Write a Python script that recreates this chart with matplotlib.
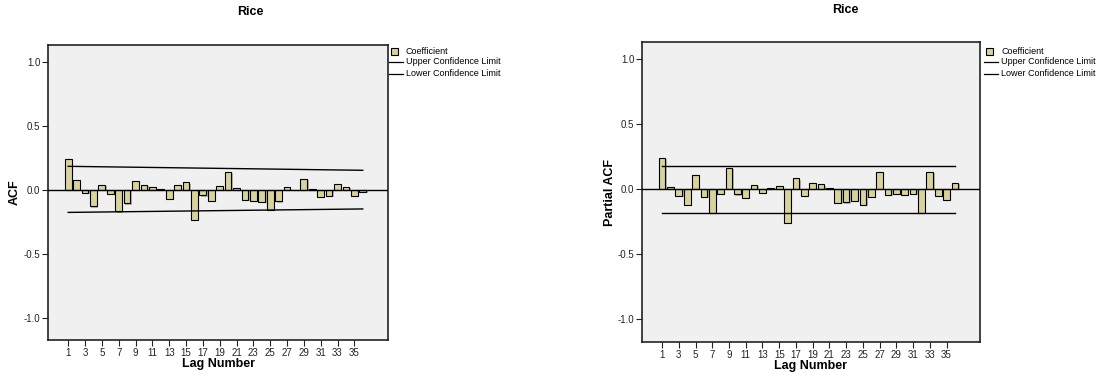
import numpy as np
import matplotlib
matplotlib.use("Agg")
import matplotlib.pyplot as plt
import matplotlib.patheffects as pe

plt.rcParams['font.family'] = ['Liberation Sans', 'DejaVu Sans']

lags = list(range(1, 37))
acf = [0.242, 0.073, -0.026, -0.130, 0.039, -0.031, -0.169, -0.107, 0.070, 0.036,
       0.018, 0.003, -0.070, 0.039, 0.057, -0.234, -0.044, -0.086, 0.031, 0.141,
       0.013, -0.078, -0.086, -0.094, -0.159, -0.091, 0.018, -0.003, 0.086, 0.005,
       -0.055, -0.047, 0.047, 0.023, -0.049, -0.016]
pacf = [0.238, 0.015, -0.054, -0.123, 0.107, -0.061, -0.181, -0.038, 0.164, -0.041,
        -0.066, 0.031, -0.031, 0.010, 0.023, -0.260, 0.084, -0.054, 0.049, 0.038,
        0.005, -0.107, -0.102, -0.092, -0.120, -0.061, 0.133, -0.043, -0.038, -0.046,
        -0.038, -0.184, 0.135, -0.054, -0.082, 0.046]

# confidence limits read at first and last lag
limit_lags = [1, 36]
acf_upper = [0.182, 0.151]
acf_lower = [-0.178, -0.151]
pacf_upper = [0.181, 0.181]
pacf_lower = [-0.181, -0.181]

bar_color = '#d8d29e'
bg = '#f0f0f0'

fig = plt.figure(figsize=(11.07, 3.74), dpi=100)
W, H = 1107, 374


def panel(rect, vals, upper, lower, ylabel, title_xy, ylabel_x, legend_x):
    l, r, t, b = rect
    ax = fig.add_axes([l / W, 1 - b / H, (r - l) / W, (b - t) / H])
    ax.set_facecolor(bg)
    bars = ax.bar(lags, vals, width=0.8, color=bar_color, edgecolor='black',
                  linewidth=0.8, zorder=3)
    for p in bars:
        p.set_path_effects([pe.SimplePatchShadow(offset=(1, -1), shadow_rgbFace='#888888', alpha=0.6),
                            pe.Normal()])
    ax.axhline(0, color='black', lw=1, zorder=4)
    ax.plot(limit_lags, upper, color='black', lw=1, zorder=4)
    ax.plot(limit_lags, lower, color='black', lw=1, zorder=4)
    ax.set_xlim(-1.4, 39)
    ax.set_ylim(-1.175, 1.13)
    ax.set_xticks(range(1, 36, 2))
    ax.set_yticks([-1.0, -0.5, 0.0, 0.5, 1.0])
    ax.set_yticklabels(['-1.0', '-0.5', '0.0', '0.5', '1.0'])
    ax.tick_params(labelsize=7, length=4, width=0.8, colors='#222222', pad=1.5)
    for s in ax.spines.values():
        s.set_linewidth(1.2)
        s.set_color('#222222')
    fig.text(((l + r) / 2) / W, 1 - (b + 24) / H, 'Lag Number', fontsize=9,
             fontweight='bold', ha='center', va='center')
    fig.text(ylabel_x / W, 1 - ((t + b) / 2) / H, ylabel, rotation=90, fontsize=9,
             fontweight='bold', ha='center', va='center')
    fig.text(title_xy[0] / W, 1 - title_xy[1] / H, 'Rice', fontsize=9,
             fontweight='bold', ha='center', va='center')
    # legend
    lx = legend_x
    fig.patches.append(plt.Rectangle(((lx + 2) / W, 1 - 55 / H), 7 / W, 7 / H,
                                     transform=fig.transFigure, facecolor=bar_color,
                                     edgecolor='black', lw=0.8))
    fig.text((lx + 17) / W, 1 - 51 / H, 'Coefficient', fontsize=6.5, va='center')
    for yy, txt in [(62, 'Upper Confidence Limit'), (74, 'Lower Confidence Limit')]:
        fig.lines.append(plt.Line2D([lx / W, (lx + 14) / W], [1 - yy / H, 1 - yy / H],
                                    transform=fig.transFigure, color='black', lw=0.9))
        fig.text((lx + 17) / W, 1 - yy / H, txt, fontsize=6.5, va='center')
    return ax


panel((48, 388, 45, 340), acf, acf_upper, acf_lower, 'ACF', (250, 12), 15, 389)
panel((642, 980, 42, 342), pacf, pacf_upper, pacf_lower, 'Partial ACF', (845, 10), 610, 984)

fig.savefig('out.png', dpi=100)
